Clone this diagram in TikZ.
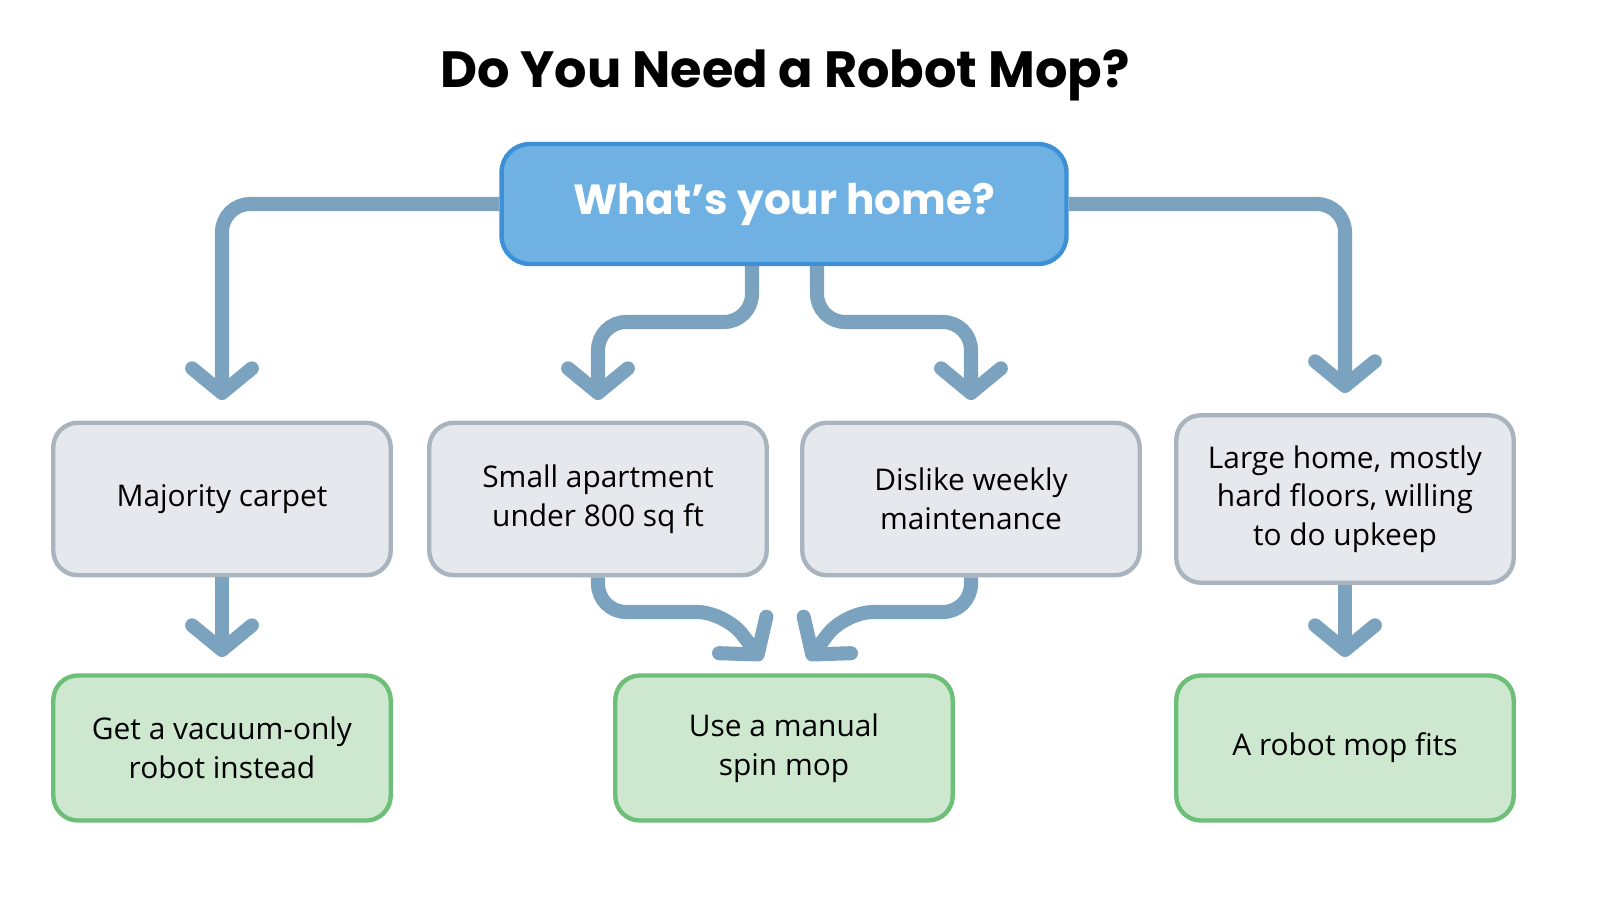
\documentclass[tikz,border=0pt]{standalone}
\usepackage{fontspec}
\setmainfont{Open Sans}
\newfontfamily\titlefont{Poppins}
\usetikzlibrary{arrows.meta}
\definecolor{arr}{HTML}{7BA3BF}
\definecolor{gfill}{HTML}{E5E8EC}
\definecolor{gdraw}{HTML}{A9B4BF}
\definecolor{nfill}{HTML}{CDE8CF}
\definecolor{ndraw}{HTML}{6DBF78}
\definecolor{bfill}{HTML}{6FB1E3}
\definecolor{bdraw}{HTML}{3D8FD6}
\begin{document}
\begin{tikzpicture}[x=0.02cm,y=-0.02cm,
 box/.style={draw=gdraw,fill=gfill,line width=2.5pt,rounded corners=14pt,align=center,font=\fontsize{17}{22}\selectfont,text=black,minimum width=6.75cm},
 res/.style={draw=ndraw,fill=nfill,line width=2.5pt,rounded corners=14pt,align=center,font=\fontsize{17}{22}\selectfont,text=black,minimum width=6.75cm},
 con/.style={draw=arr,line width=8pt,rounded corners=16pt,-{Straight Barb[length=14pt,width=34pt,line width=8pt,round]}}]
\useasboundingbox (0,0) rectangle (1600,900);
\node[font=\titlefont\bfseries\fontsize{29}{36}\selectfont] (title) at (785,75) {Do You Need a Robot Mop?};
\node[draw=bdraw,fill=bfill,line width=2.5pt,rounded corners=16pt,minimum width=11.3cm,minimum height=2.4cm,align=center,text=white,font=\titlefont\bfseries\fontsize{24}{30}\selectfont] (top) at (784,204) {What’s your home?};
\node[box,minimum height=3.05cm] (b1) at (222,499) {Majority carpet};
\node[box,minimum height=3.05cm] (b2) at (598,499) {Small apartment\\under 800 sq ft};
\node[box,minimum height=3.05cm] (b3) at (971,499) {Dislike weekly\\maintenance};
\node[box,minimum height=3.35cm] (b4) at (1345,499) {Large home, mostly\\hard floors, willing\\to do upkeep};
\node[res,minimum height=2.9cm] (r1) at (222,748) {Get a vacuum-only\\robot instead};
\node[res,minimum height=2.9cm] (r2) at (784,748) {Use a manual\\spin mop};
\node[res,minimum height=2.9cm] (r3) at (1345,748) {A robot mop fits};
\coordinate (e1) at (222,400);
\coordinate (e2) at (598,400);
\coordinate (e3) at (971,400);
\coordinate (e4) at (1345,393);
\coordinate (f1) at (222,657);
\coordinate (f4) at (1345,657);
\coordinate (g2) at (762,660);
\coordinate (g3) at (808,660);
\draw[con] (top.west) -| (e1);
\draw[con] (top.east) -| (e4);
\draw[con] (top.south -| 752,0) -- (752,322) -- (598,322) -- (e2);
\draw[con] (top.south -| 817,0) -- (817,322) -- (971,322) -- (e3);
\draw[con] (b1.south) -- (f1);
\draw[con] (b4.south) -- (f4);
\draw[con] (b2.south) -- (598,612) -- (725,612) -- (g2);
\draw[con] (b3.south) -- (971,612) -- (845,612) -- (g3);
\end{tikzpicture}
\end{document}
